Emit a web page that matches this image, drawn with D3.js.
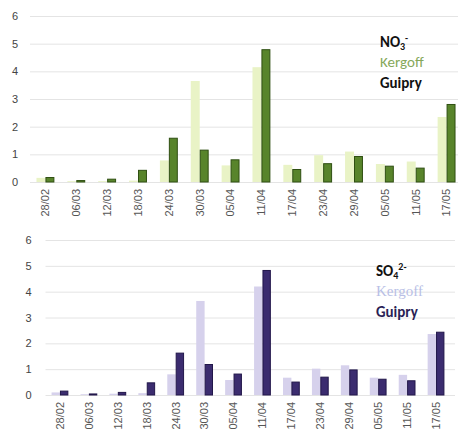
<!DOCTYPE html>
<html>
<head>
<meta charset="utf-8">
<script src="https://cdn.jsdelivr.net/npm/d3@7"></script>
<style>
  body { margin: 0; background: #fff; }
  svg { display: block; font-family: Calibri, Carlito, "Open Sans", "Liberation Sans", sans-serif; }
  .grid line { stroke: #e4e4e4; stroke-width: 1; }
  .grid text { fill: #444; font-size: 11px; }
  .dates text { fill: #555; font-size: 11px; }
</style>
</head>
<body>
<div class="container"></div>
<script>
var dates = ['28/02','06/03','12/03','18/03','24/03','30/03','05/04','11/04','17/04','23/04','29/04','05/05','11/05','17/05'];
var yTicks = [0,1,2,3,4,5,6];

var no3Kergoff = [0.15,0.03,0.03,0.05,0.78,3.65,0.6,4.15,0.62,0.97,1.1,0.65,0.74,2.35];
var no3Guipry  = [0.18,0.07,0.12,0.44,1.6,1.17,0.82,4.8,0.47,0.68,0.94,0.59,0.52,2.82];

var so4Kergoff = [0.1,0.03,0.05,0.07,0.8,3.64,0.58,4.2,0.67,1.02,1.15,0.67,0.78,2.36];
var so4Guipry  = [0.17,0.06,0.12,0.49,1.64,1.2,0.83,4.84,0.52,0.71,0.99,0.63,0.57,2.45];

var WIDTH = 459, HEIGHT = 429;

var svg = d3.select('.container').append('svg')
    .attr('width', WIDTH)
    .attr('height', HEIGHT);

var drawPanel = function(opt) {
    var x = d3.scaleBand().domain(dates).range([opt.left, opt.right]).paddingInner(0.42).paddingOuter(0.21);
    var x1 = d3.scaleBand().domain(['k','g']).range([0, x.bandwidth()]);
    var y = d3.scaleLinear().domain([0,6]).range([opt.bottom, opt.top]);

    var grid = d3.axisLeft(y).tickValues(yTicks).tickFormat(d3.format('d'))
        .tickSize(-(opt.gridRight - opt.left)).tickPadding(opt.labelPad);
    svg.append('g').attr('class','grid')
        .attr('transform','translate(' + opt.left + ',0)')
        .call(grid)
        .call(function(g){ g.select('.domain').remove(); });

    var rows = dates.map(function(d, i){ return {date: d, k: opt.kergoff[i], g: opt.guipry[i]}; });

    var groups = svg.append('g').selectAll('g').data(rows).enter().append('g')
        .attr('transform', function(d){ return 'translate(' + x(d.date) + ',0)'; });

    groups.append('rect')
        .attr('x', x1('k'))
        .attr('y', function(d){ return y(d.k); })
        .attr('width', x1.bandwidth())
        .attr('height', function(d){ return y(0) - y(d.k); })
        .attr('fill', opt.light);

    groups.append('rect')
        .attr('x', x1('g') + 0.5)
        .attr('y', function(d){ return y(d.g) + 0.5; })
        .attr('width', x1.bandwidth() - 1)
        .attr('height', function(d){ return Math.max(0, y(0) - y(d.g) - 0.5); })
        .attr('fill', opt.dark)
        .attr('stroke', opt.darkStroke)
        .attr('stroke-width', 1);

    var xAxis = d3.axisBottom(x).tickSize(0).tickPadding(0);
    svg.append('g').attr('class','dates')
        .attr('transform','translate(0,' + (opt.bottom + 5) + ')')
        .call(xAxis)
        .call(function(g){ g.select('.domain').remove(); })
        .selectAll('text')
        .attr('transform','rotate(-90)')
        .attr('dy','0.35em')
        .attr('x', -2)
        .attr('y', 0)
        .style('text-anchor','end');

    // legend
    var leg = svg.append('g').attr('font-size', '15px').attr('font-weight', 'bold');
    var ion = leg.append('text').attr('x', opt.legX).attr('y', opt.legY).attr('fill', '#111');
    ion.append('tspan').text(opt.ion);
    ion.append('tspan').attr('dy', 3).attr('font-size', '10px').text(opt.sub);
    ion.append('tspan').attr('dy', -9).attr('font-size', '10px').text(opt.sup);
    leg.append('text').attr('x', opt.legX).attr('y', opt.legY + 20).attr('fill', opt.legendLight)
        .attr('font-weight','normal').attr('font-family', opt.kFont).text('Kergoff');
    leg.append('text').attr('x', opt.legX).attr('y', opt.legY + 41).attr('fill', opt.legendDark).text('Guipry');
};

drawPanel({
    left: 30, right: 462, gridRight: 458, top: 16, bottom: 182, labelPad: 12,
    kergoff: no3Kergoff, guipry: no3Guipry,
    light: '#e9f3c6', dark: '#58842b', darkStroke: '#2f4f12',
    ion: 'NO', sub: '3', sup: '-', legX: 380, legY: 47,
    legendLight: '#86a85a', legendDark: '#111', kFont: null
});

drawPanel({
    left: 45.5, right: 450.5, gridRight: 455, top: 240, bottom: 395, labelPad: 14,
    kergoff: so4Kergoff, guipry: so4Guipry,
    light: '#d6d1ec', dark: '#3b2c6f', darkStroke: '#22174a',
    ion: 'SO', sub: '4', sup: '2-', legX: 376, legY: 276,
    legendLight: '#b9bfe6', legendDark: '#2a1f55', kFont: 'Liberation Serif, serif'
});
</script>
</body>
</html>
